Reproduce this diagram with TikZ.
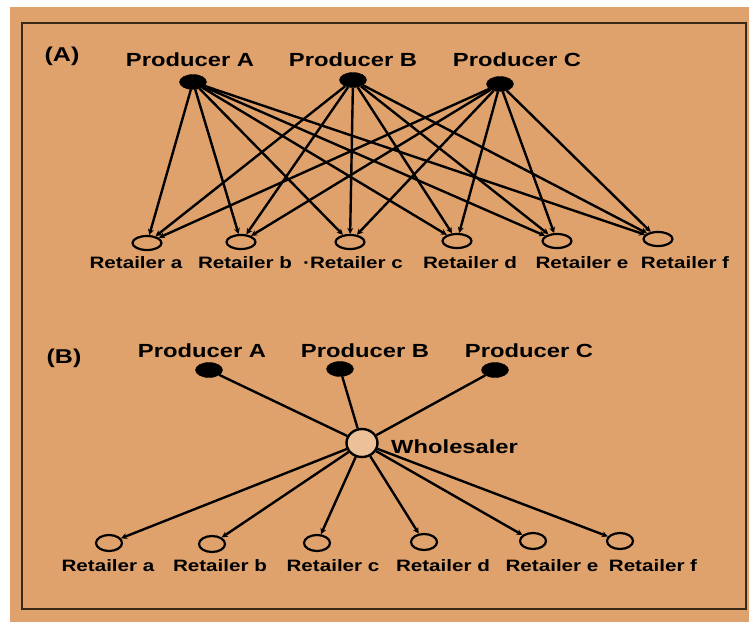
\documentclass[tikz,border=0pt]{standalone}
\usepackage{fontspec}
\setmainfont{Liberation Sans}[FakeStretch=1.25]
\usetikzlibrary{arrows.meta,shapes.geometric}
\definecolor{bgorange}{RGB}{224,162,108}
\definecolor{framebrown}{RGB}{60,40,22}
\definecolor{hubfill}{RGB}{236,192,152}
\begin{document}
\begin{tikzpicture}[x=1pt,y=-1pt,
  prodnode/.style={draw=black,fill=black,ellipse,minimum width=27pt,minimum height=15pt,inner sep=0pt},
  retnode/.style={draw=black,line width=2.2pt,fill=bgorange,ellipse,minimum width=29pt,minimum height=14pt,inner sep=0pt},
  retnodeB/.style={retnode,minimum width=26pt,minimum height=16pt},
  hub/.style={draw=black,line width=2.4pt,fill=hubfill,ellipse,minimum width=31pt,minimum height=28pt,inner sep=0pt},
  plabel/.style={font=\bfseries\fontsize{19}{23}\selectfont,inner sep=0pt},
  tlabel/.style={font=\bfseries\fontsize{20}{24}\selectfont,inner sep=0pt},
  rlabel/.style={font=\bfseries\fontsize{16.5}{20}\selectfont,inner sep=0pt},
  link/.style={line width=2.4pt,-{Stealth[length=6pt,width=6pt]}},
  plainlink/.style={line width=2.4pt}]
\useasboundingbox (0,0) rectangle (749,622);
\fill[white] (0,0) rectangle (749,622);
\fill[bgorange] (10,7) rectangle (749,622);
\draw[framebrown,line width=2.5pt] (22,23) rectangle (746,609);

% ---------- Part A ----------
\node[tlabel] (tA) at (62,56) {(A)};
\node[plabel] (lpA) at (190,60) {Producer A};
\node[plabel] (lpB) at (353,60) {Producer B};
\node[plabel] (lpC) at (517,60) {Producer C};
\node[prodnode] (pA) at (193,82) {};
\node[prodnode] (pB) at (353,80) {};
\node[prodnode] (pC) at (500,84) {};

\node[retnode] (ra) at (147,243) {};
\node[retnode] (rb) at (241,242) {};
\node[retnode] (rc) at (350,242) {};
\node[retnode] (rd) at (457,241) {};
\node[retnode] (re) at (557,241) {};
\node[retnode] (rf) at (658,239) {};

\node[rlabel] (lra) at (136,263) {Retailer a};
\node[rlabel] (lrb) at (245,263) {Retailer b};
\node[rlabel] (lrc) at (353,263) {·Retailer c};
\node[rlabel] (lrd) at (470,263) {Retailer d};
\node[rlabel] (lre) at (582,263) {Retailer e};
\node[rlabel] (lrf) at (685,263) {Retailer f};

\foreach \p in {pA,pB,pC}{
  \foreach \r in {ra,rb,rc,rd,re,rf}{
    \draw[link] (\p) -- (\r);
  }
}

% ---------- Part B ----------
\node[tlabel] (tB) at (64,358) {(B)};
\node[plabel] (lqA) at (202,351) {Producer A};
\node[plabel] (lqB) at (365,351) {Producer B};
\node[plabel] (lqC) at (529,351) {Producer C};
\node[prodnode] (qA) at (209,370) {};
\node[prodnode] (qB) at (340,369) {};
\node[prodnode] (qC) at (495,370) {};

\node[hub] (hub) at (362,443) {};
\node[plabel,anchor=west] (lhub) at (391,447) {Wholesaler};

\node[retnodeB] (sa) at (109,543) {};
\node[retnodeB] (sb) at (212,544) {};
\node[retnodeB] (sc) at (317,543) {};
\node[retnodeB] (sd) at (424,542) {};
\node[retnodeB] (se) at (533,541) {};
\node[retnodeB] (sf) at (620,541) {};

\node[rlabel] (lsa) at (108,566) {Retailer a};
\node[rlabel] (lsb) at (220,566) {Retailer b};
\node[rlabel] (lsc) at (333,566) {Retailer c};
\node[rlabel] (lsd) at (443,566) {Retailer d};
\node[rlabel] (lse) at (552,566) {Retailer e};
\node[rlabel] (lsf) at (653,566) {Retailer f};

\foreach \p in {qA,qB,qC}{
  \draw[plainlink] (\p) -- (hub);
}
\foreach \r in {sa,sb,sc,sd,se,sf}{
  \draw[link] (hub) -- (\r);
}
\end{tikzpicture}
\end{document}
